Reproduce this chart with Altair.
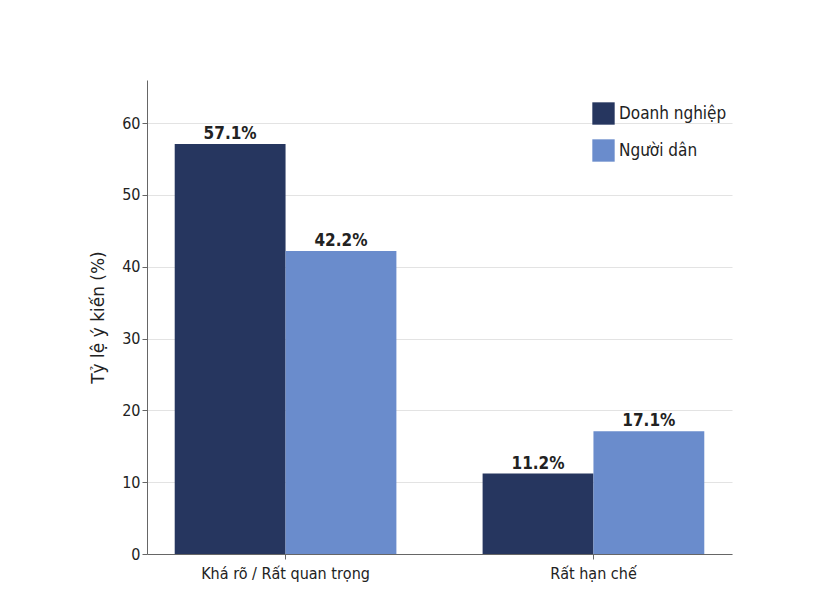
import altair as alt
import pandas as pd

categories = ["Khá rõ / Rất quan trọng", "Rất hạn chế"]
groups = ["Doanh nghiệp", "Người dân"]
doanh_nghiep = [57.1, 11.2]
nguoi_dan = [42.2, 17.1]
colors = ["#26365f", "#6a8ccc"]

rows = []
for i, c in enumerate(categories):
    rows.append({"cat": c, "group": groups[0], "value": doanh_nghiep[i], "label": f"{doanh_nghiep[i]}%"})
    rows.append({"cat": c, "group": groups[1], "value": nguoi_dan[i], "label": f"{nguoi_dan[i]}%"})
df = pd.DataFrame(rows)

font = "DejaVu Sans Condensed"

base = alt.Chart(df).encode(
    x=alt.X("cat:N", sort=categories, title=None,
            scale=alt.Scale(paddingInner=0.28, paddingOuter=0.09),
            axis=alt.Axis(labelAngle=0, labelFontSize=16, labelFont=font, labelColor="#222",
                          domainColor="#666", tickColor="#666", labelPadding=6)),
    xOffset=alt.XOffset("group:N", sort=groups, scale=alt.Scale(paddingInner=0, paddingOuter=0)),
)

bars = base.mark_bar().encode(
    y=alt.Y("value:Q", title="Tỷ lệ ý kiến (%)", scale=alt.Scale(domain=[0, 66], nice=False),
            axis=alt.Axis(values=[0, 10, 20, 30, 40, 50, 60], labelFontSize=16, labelFont=font,
                          labelColor="#222", titleFontSize=17, titleFont="DejaVu Sans",
                          titleFontWeight="normal", titleColor="#222", titlePadding=14,
                          gridColor="#e3e3e3", domainColor="#666", tickColor="#666")),
    color=alt.Color("group:N", sort=groups, scale=alt.Scale(domain=groups, range=colors),
                    legend=alt.Legend(title=None, orient="none", legendX=445, legendY=22,
                                      symbolType="square", symbolSize=500, symbolStrokeWidth=0,
                                      labelFontSize=17, labelFont=font, labelColor="#222",
                                      rowPadding=14, symbolOpacity=1)),
)

text = base.mark_text(dy=-10, fontSize=17, fontWeight="bold", font=font, color="#222").encode(
    y=alt.Y("value:Q"),
    text="label:N",
)

chart = (bars + text).properties(
    width=585, height=474,
    autosize=alt.AutoSizeParams(type="none"),
    padding={"left": 139, "top": 72, "right": 90, "bottom": 50},
).configure_view(stroke=None).configure_axis(grid=True).configure_axisX(grid=False)

chart.save("out.html", embed_options={"renderer": "svg", "actions": False})
